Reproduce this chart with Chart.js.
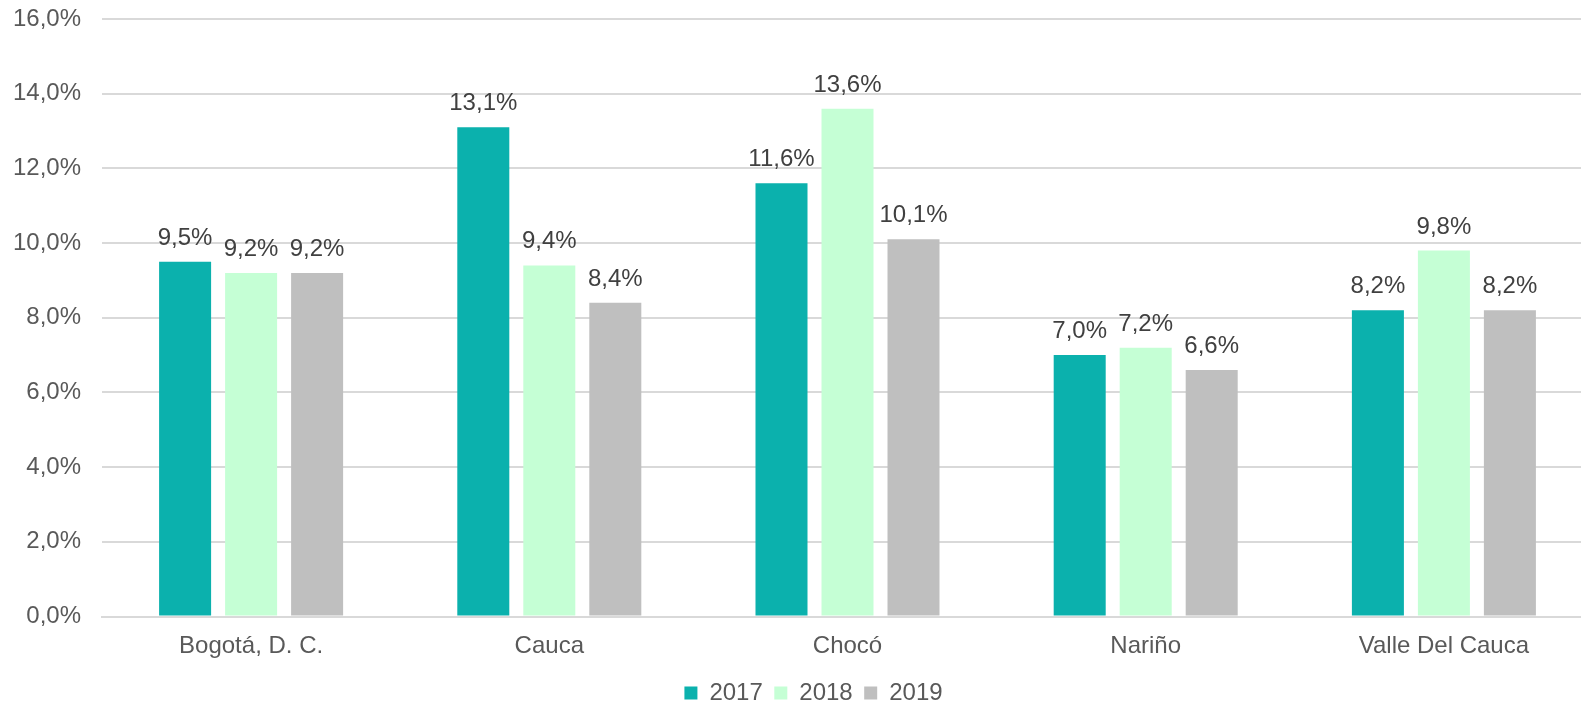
<!DOCTYPE html>
<html>
<head>
<meta charset="utf-8">
<script src="https://cdn.jsdelivr.net/npm/chart.js@4/dist/chart.umd.min.js"></script>
<style>
  html, body { margin: 0; padding: 0; background: #ffffff; overflow: hidden; }
  #wrap { width: 1593px; height: 705px; position: relative; }
</style>
</head>
<body>
<div id="wrap"><canvas id="chart"></canvas></div>
<script>
// Departments and yearly rates (%)
const categories = ['Bogotá, D. C.', 'Cauca', 'Chocó', 'Nariño', 'Valle Del Cauca'];
const years = ['2017', '2018', '2019'];
const values2017 = [9.5, 13.1, 11.6, 7.0, 8.2];
const values2018 = [9.2, 9.4, 13.6, 7.2, 9.8];
const values2019 = [9.2, 8.4, 10.1, 6.6, 8.2];
const yTicks = { min: 0, max: 16, step: 2 };

const colors = ['#0BB1AD', '#C5FFD5', '#BFBFBF'];
const FONT = 'Arial';

function pct(v) {
  return v.toFixed(1).replace('.', ',') + '%';
}

// Writes each bar's value just above it
const valueLabels = {
  id: 'valueLabels',
  afterDatasetsDraw(chart) {
    const ctx = chart.ctx;
    ctx.save();
    ctx.font = '24px ' + FONT;
    ctx.fillStyle = '#404040';
    ctx.textAlign = 'center';
    ctx.textBaseline = 'alphabetic';
    chart.data.datasets.forEach((ds, i) => {
      chart.getDatasetMeta(i).data.forEach((bar, j) => {
        ctx.fillText(pct(ds.data[j]), bar.x, bar.y - 17);
      });
    });
    ctx.restore();
  }
};

// Nudges the legend row lower and a little to the right
const legendOffset = {
  id: 'legendOffset',
  afterLayout(chart) {
    const lg = chart.legend;
    if (!lg) return;
    lg.top += 10; lg.bottom += 10;
    lg.left += 17; lg.right += 17;
  }
};

const seriesValues = [values2017, values2018, values2019];

new Chart(document.getElementById('chart'), {
  type: 'bar',
  data: {
    labels: categories,
    datasets: years.map((y, i) => ({
      label: y,
      data: seriesValues[i],
      backgroundColor: colors[i],
      borderWidth: 0,
      categoryPercentage: 0.664,
      barPercentage: 0.788
    }))
  },
  options: {
    responsive: true,
    maintainAspectRatio: false,
    animation: false,
    layout: { padding: { top: 19, left: 0, right: 0, bottom: 0 } },
    plugins: {
      tooltip: { enabled: false },
      legend: {
        position: 'bottom',
        labels: {
          font: { family: FONT, size: 24 },
          color: '#595959',
          boxWidth: 13,
          boxHeight: 13,
          padding: 11.5
        }
      }
    },
    scales: {
      x: {
        grid: { display: false, drawTicks: false },
        border: { display: true, color: '#D9D9D9', width: 2 },
        ticks: {
          font: { family: FONT, size: 24 },
          color: '#595959',
          padding: 15
        },
        afterFit(scale) { scale.height = 43; }
      },
      y: {
        min: yTicks.min,
        max: yTicks.max,
        grid: { color: '#D9D9D9', lineWidth: 2, drawTicks: false },
        border: { display: false },
        ticks: {
          stepSize: yTicks.step,
          font: { family: FONT, size: 24 },
          color: '#595959',
          padding: 21,
          callback: (v) => pct(v)
        },
        afterFit(scale) {
          scale.width = 102;
          scale.paddingTop = 0;
          scale.paddingBottom = 0;
        }
      }
    }
  },
  plugins: [valueLabels, legendOffset]
});
</script>
</body>
</html>
